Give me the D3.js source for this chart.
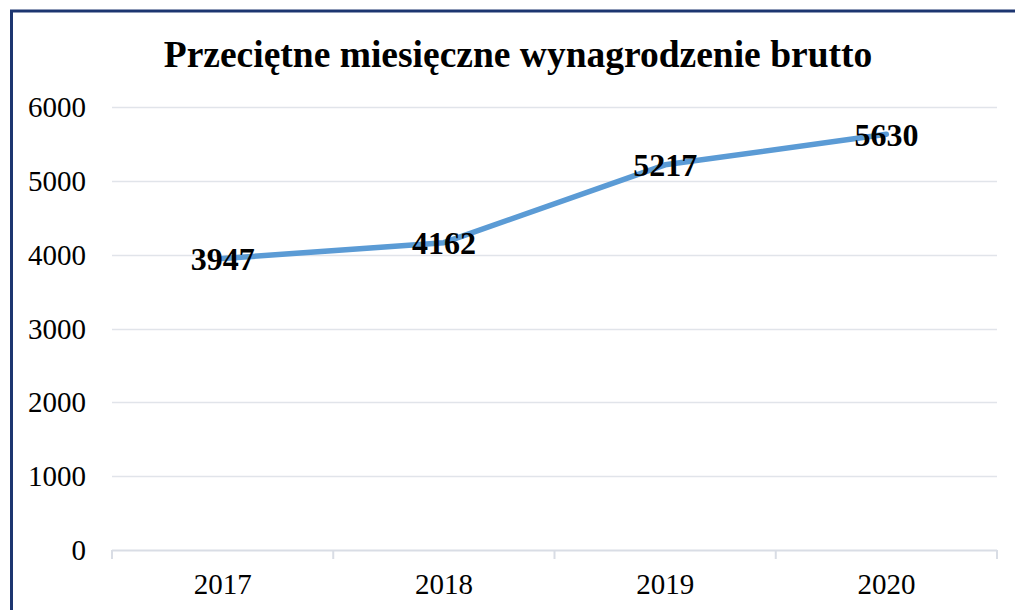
<!DOCTYPE html>
<html>
<head>
<meta charset="utf-8">
<script src="https://cdn.jsdelivr.net/npm/d3@7"></script>
<style>
  body { margin: 0; background: #fff; }
  svg { display: block; font-family: "Liberation Serif", "Times New Roman", serif; }
</style>
</head>
<body>
<div id="chart"></div>
<script>
// chart data
let years = ['2017', '2018', '2019', '2020'];
let salary = [3947, 4162, 5217, 5630];
let yTicks = [0, 1000, 2000, 3000, 4000, 5000, 6000];
let title = 'Przeciętne miesięczne wynagrodzenie brutto';

let width = 1015;
let height = 610;
let plotLeft = 112, plotRight = 997, plotTop = 107, plotBottom = 550;

let svg = d3.select('#chart')
		.append('svg')
		.attr('width', width)
		.attr('height', height);

// outer frame (right / bottom edges fall outside the picture)
svg.append('rect')
		.attr('x', 11.5)
		.attr('y', 11)
		.attr('width', 1100)
		.attr('height', 800)
		.attr('fill', 'none')
		.attr('stroke', '#1c3570')
		.attr('stroke-width', 3);

let xScale = d3.scaleBand()
		.domain(years)
		.range([plotLeft, plotRight]);

let yScale = d3.scaleLinear()
		.domain([0, 6000])
		.range([plotBottom, plotTop]);

// horizontal gridlines
svg.append('g')
		.selectAll('line')
		.data(yTicks.filter(d => d > 0))
		.enter()
		.append('line')
		.attr('x1', plotLeft)
		.attr('x2', plotRight)
		.attr('y1', d => Math.round(yScale(d)) + 0.5)
		.attr('y2', d => Math.round(yScale(d)) + 0.5)
		.attr('stroke', '#e1e4ea')
		.attr('stroke-width', 1.5);

// y axis labels (no line)
svg.append('g')
		.selectAll('text')
		.data(yTicks)
		.enter()
		.append('text')
		.attr('x', 86)
		.attr('y', d => yScale(d))
		.attr('dy', '0.35em')
		.attr('text-anchor', 'end')
		.attr('font-size', 29)
		.attr('fill', '#000')
		.text(d => d);

// x axis
let xAxis = svg.append('g')
		.attr('transform', `translate(0, ${plotBottom})`);

xAxis.append('line')
		.attr('x1', plotLeft)
		.attr('x2', plotRight)
		.attr('y1', 0.5)
		.attr('y2', 0.5)
		.attr('stroke', '#d9dde5')
		.attr('stroke-width', 2);

let tickPos = years.map(d => xScale(d)).concat([plotRight]);
xAxis.selectAll('.tick-mark')
		.data(tickPos)
		.enter()
		.append('line')
		.attr('class', 'tick-mark')
		.attr('x1', d => d)
		.attr('x2', d => d)
		.attr('y1', 0)
		.attr('y2', 9)
		.attr('stroke', '#d9dde5')
		.attr('stroke-width', 2);

xAxis.selectAll('.tick-label')
		.data(years)
		.enter()
		.append('text')
		.attr('class', 'tick-label')
		.attr('x', d => xScale(d) + xScale.bandwidth() / 2)
		.attr('y', 44)
		.attr('text-anchor', 'middle')
		.attr('font-size', 29)
		.attr('fill', '#000')
		.text(d => d);

// the line
let line = d3.line()
		.x((d, i) => xScale(years[i]) + xScale.bandwidth() / 2)
		.y(d => yScale(d));

svg.append('path')
		.datum(salary)
		.attr('d', line)
		.attr('fill', 'none')
		.attr('stroke', '#5b9bd5')
		.attr('stroke-width', 5.5)
		.attr('stroke-linecap', 'round')
		.attr('stroke-linejoin', 'round');

// value labels
svg.append('g')
		.selectAll('text')
		.data(salary)
		.enter()
		.append('text')
		.attr('x', (d, i) => xScale(years[i]) + xScale.bandwidth() / 2)
		.attr('y', d => yScale(d))
		.attr('dy', '0.35em')
		.attr('text-anchor', 'middle')
		.attr('font-size', 32)
		.attr('font-weight', 'bold')
		.attr('fill', '#000')
		.text(d => d);

// title
svg.append('text')
		.attr('x', 518)
		.attr('y', 67)
		.attr('text-anchor', 'middle')
		.attr('font-size', 37.5)
		.attr('font-weight', 'bold')
		.attr('fill', '#000')
		.text(title);
</script>
</body>
</html>
